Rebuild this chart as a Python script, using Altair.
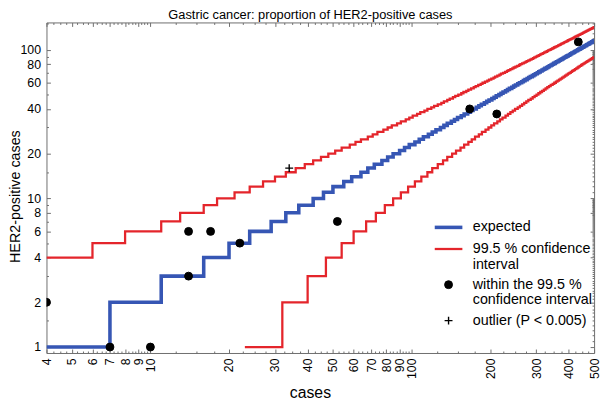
import altair as alt
import pandas as pd

# ---------------- data ----------------
# number of cases at which each step of a line begins (one entry per integer level)
expected_first_level = 1
expected_starts = [4, 7, 11, 16, 20, 24, 29, 33, 37, 42, 46, 50, 55, 59, 64, 68, 72, 77, 81, 85, 90, 94, 98,
                   103, 107, 111, 116, 120, 124, 129, 133, 137, 142, 146, 150, 155, 159, 164, 168, 172, 177, 181, 185, 190, 194, 198,
                   203, 207, 211, 216, 220, 224, 229, 233, 237, 242, 246, 250, 255, 259, 264, 268, 272, 277, 281, 285, 290, 294, 298,
                   303, 307, 311, 316, 320, 324, 329, 333, 337, 342, 346, 350, 355, 359, 364, 368, 372, 377, 381, 385, 390, 394, 398,
                   403, 407, 411, 416, 420, 424, 429, 433, 437, 442, 446, 450, 455, 459, 464, 468, 472, 477, 481, 485, 490, 494, 498]

upper_first_level = 4
upper_starts = [4, 6, 8, 11, 13, 16, 18, 21, 24, 27, 30, 33, 36, 39, 42, 45, 48, 51, 54, 58, 61, 64, 68, 71, 74,
                78, 81, 84, 88, 91, 95, 98, 101, 105, 108, 112, 115, 119, 122, 126, 130, 133, 137, 140, 144, 147,
                151, 155, 158, 162, 165, 169, 173, 176, 180, 184, 187, 191, 195, 198, 202, 206, 209, 213, 217, 220,
                224, 228, 232, 235, 239, 243, 246, 250, 254, 258, 261, 265, 269, 273, 276, 280, 284, 288, 292, 295,
                299, 303, 307, 311, 314, 318, 322, 326, 330, 333, 337, 341, 345, 349, 352, 356, 360, 364, 368, 372,
                375, 379, 383, 387, 391, 395, 398, 402, 406, 410, 414, 418, 422, 425, 429, 433, 437, 441, 445, 449,
                453, 456, 460, 464, 468, 472, 476, 480, 484, 488, 491, 495, 499]

lower_first_level = 1
lower_starts = [23, 32, 40, 47, 54, 60, 67, 73, 79, 85, 91, 97, 103, 109, 115, 120, 126, 132, 137, 143, 148, 154,
                159, 165, 170, 175, 181, 186, 192, 197, 202, 207, 213, 218, 223, 229, 234, 239, 244, 249, 255, 260,
                265, 270, 275, 280, 286, 291, 296, 301, 306, 311, 316, 321, 326, 331, 336, 341, 347, 352, 357, 362,
                367, 372, 377, 382, 387, 392, 397, 402, 407, 412, 417, 422, 427, 432, 436, 441, 446, 451, 456, 461,
                466, 471, 476, 481, 486, 491, 496]

cases_within = [4, 7, 10, 14, 14, 17, 22, 52, 167, 212, 435]
positive_within = [2, 1, 1, 3, 6, 6, 5, 7, 40, 37, 113]
cases_outlier = [34]
positive_outlier = [16]

x_label_values = [4, 5, 6, 7, 8, 9, 10, 20, 30, 40, 50, 60, 70, 80, 90, 100, 200, 300, 400, 500]
y_label_values = [1, 2, 4, 6, 8, 10, 20, 40, 60, 80, 100]
x_minor = ([4 + 0.25 * i for i in range(25)] + [10 + 2.5 * i for i in range(37)] + [100 + 25 * i for i in range(17)])
y_minor = [1, 1.5, 2, 3, 4, 5, 6, 7, 8, 9, 10, 15, 20, 30, 40, 50, 60, 70, 80, 90, 100, 150]
y_minor_right = ([round(1 + 0.1 * i, 1) for i in range(90)] + [10 + i for i in range(90)]
                 + [100 + 10 * i for i in range(6)])

TYPES = ["expected", "99.5 % confidence interval",
         "within the 99.5 % confidence interval", "outlier (P < 0.005)"]
X_MAX = 500

# ---------------- tables ----------------
def step_table(starts, first, label):
    rows = [{"cases": n, "positive": first + i, "type": label} for i, n in enumerate(starts)]
    rows.append({"cases": X_MAX, "positive": first + len(starts) - 1, "type": label})
    return pd.DataFrame(rows)

upper_df = step_table(upper_starts, upper_first_level, TYPES[1])
lower_df = step_table(lower_starts, lower_first_level, TYPES[1])
exp_df = step_table(expected_starts, expected_first_level, TYPES[0])
pts_df = pd.DataFrame(
    [{"cases": c, "positive": p, "type": TYPES[2]} for c, p in zip(cases_within, positive_within)]
    + [{"cases": c, "positive": p, "type": TYPES[3]} for c, p in zip(cases_outlier, positive_outlier)]
)

# ---------------- styling ----------------
W, H = 555, 335
BLUE = "#3656b4"
RED = "#e4252b"
AX = "#6e6e6e"
FONT = "Liberation Sans"

xs = alt.Scale(type="log", domain=[4, 500], nice=False)
ys = alt.Scale(type="log", domain=[0.912, 152.7], nice=False)

label_expr = ("datum.label == '99.5 % confidence interval' ? ['99.5 % confidence', 'interval'] : "
              "datum.label == 'within the 99.5 % confidence interval' ? ['within the 99.5 %', 'confidence interval'] : "
              "datum.label")
leg = alt.Legend(title=None, labelExpr=label_expr)

color_enc = alt.Color("type:N", scale=alt.Scale(domain=TYPES, range=[BLUE, RED, "black", "black"]), legend=leg)
sw_enc = alt.StrokeWidth("type:N", scale=alt.Scale(type="ordinal", domain=TYPES, range=[3.6, 2.3, 1, 1.4]), legend=leg)


def major_size(major):
    return {"condition": {"test": "indexof(%s, datum.value) >= 0" % str(major), "value": 4}, "value": 2}


x_lab_axis = alt.Axis(orient="bottom", values=x_label_values, format="d", ticks=False, tickSize=0,
                      labelAngle=270, labelAlign="right", labelBaseline="middle", labelPadding=5,
                      domain=True, domainColor=AX, grid=False, title="cases", titleX=267,
                      titlePadding=6, titleFontSize=16, titleFontWeight="normal", labelFlush=False,
                      labelOverlap=False)
y_lab_axis = alt.Axis(orient="left", values=y_label_values, format="d", ticks=False, tickSize=0,
                      labelPadding=6, domain=True, domainColor=AX, grid=False,
                      title="HER2-positive cases", titleX=-24, titleY=176, titleAngle=270,
                      titleBaseline="bottom", titleFontSize=14.5, titleFontWeight="normal",
                      labelFlush=False, labelOverlap=False)

x_tick_bottom = alt.Axis(orient="top", offset=-H, values=x_minor, labels=False, tickSize=major_size(x_label_values),
                         tickColor=AX, domain=False, grid=False, title=None)
x_tick_top = alt.Axis(orient="bottom", offset=-H, values=x_minor, labels=False, tickSize=major_size(x_label_values),
                      tickColor=AX, domain=True, domainColor=AX, grid=False, title=None)
y_tick_left = alt.Axis(orient="right", offset=-W, values=y_minor, labels=False, tickSize=major_size(y_label_values),
                       tickColor=AX, domain=False, grid=False, title=None)
y_tick_right = alt.Axis(orient="left", offset=-W, values=y_minor_right, labels=False,
                        tickSize=major_size(y_label_values), tickColor=AX, domain=True, domainColor=AX,
                        grid=False, title=None)

upper = alt.Chart(upper_df).mark_line(interpolate="step-after", clip=True).encode(
    x=alt.X("cases:Q", scale=xs, axis=x_lab_axis),
    y=alt.Y("positive:Q", scale=ys, axis=y_lab_axis),
    color=color_enc, strokeWidth=sw_enc)

lower = alt.Chart(lower_df).mark_line(interpolate="step-after", clip=True).encode(
    x=alt.X("cases:Q", scale=xs, axis=x_tick_bottom),
    y=alt.Y("positive:Q", scale=ys, axis=y_tick_left),
    color=color_enc, strokeWidth=sw_enc)

expected = alt.Chart(exp_df).mark_line(interpolate="step-after", clip=True).encode(
    x=alt.X("cases:Q", scale=xs, axis=x_tick_top),
    y=alt.Y("positive:Q", scale=ys, axis=y_tick_right),
    color=color_enc, strokeWidth=sw_enc)

points = alt.Chart(pts_df).mark_point(filled=False, clip=True, opacity=1).encode(
    x=alt.X("cases:Q", scale=xs, axis=None),
    y=alt.Y("positive:Q", scale=ys, axis=None),
    color=color_enc, strokeWidth=sw_enc,
    shape=alt.Shape("type:N", scale=alt.Scale(domain=TYPES, range=["M-2,0H2", "M-2,0H2", "circle", "M-1,0H1M0,-1V1"]), legend=leg),
    size=alt.Size("type:N", scale=alt.Scale(type="ordinal", domain=TYPES, range=[196, 196, 64, 64]), legend=leg),
    fill=alt.Fill("type:N", scale=alt.Scale(domain=TYPES, range=["transparent", "transparent", "black", "transparent"]), legend=leg),
)

chart = alt.layer(upper, lower, expected, points).resolve_axis(
    x="independent", y="independent"
).properties(
    width=W, height=H,
    title=alt.TitleParams("Gastric cancer: proportion of HER2-positive cases", anchor="middle", frame="group",
                          dx=-10, dy=12, offset=2.5, baseline="alphabetic", fontSize=13, fontWeight="normal", font=FONT),
    autosize=alt.AutoSizeParams(type="none"),
    padding={"left": 39, "top": 12, "right": 7, "bottom": 46},
).configure(
    style={"guide-label": {"lineHeight": 16}}
).configure_view(strokeWidth=0).configure_axis(
    labelFont=FONT, labelFontSize=12.5, labelColor="black", titleFont=FONT, titleColor="black"
).configure_legend(
    orient="none", legendX=398.5, legendY=198.7, padding=0, labelFont=FONT, labelFontSize=14.5,
    labelColor="black", labelLimit=400, labelOffset=15.5, rowPadding=5.4, symbolOffset=0
)

chart.save("out.html", embed_options={"renderer": "svg", "actions": False})
